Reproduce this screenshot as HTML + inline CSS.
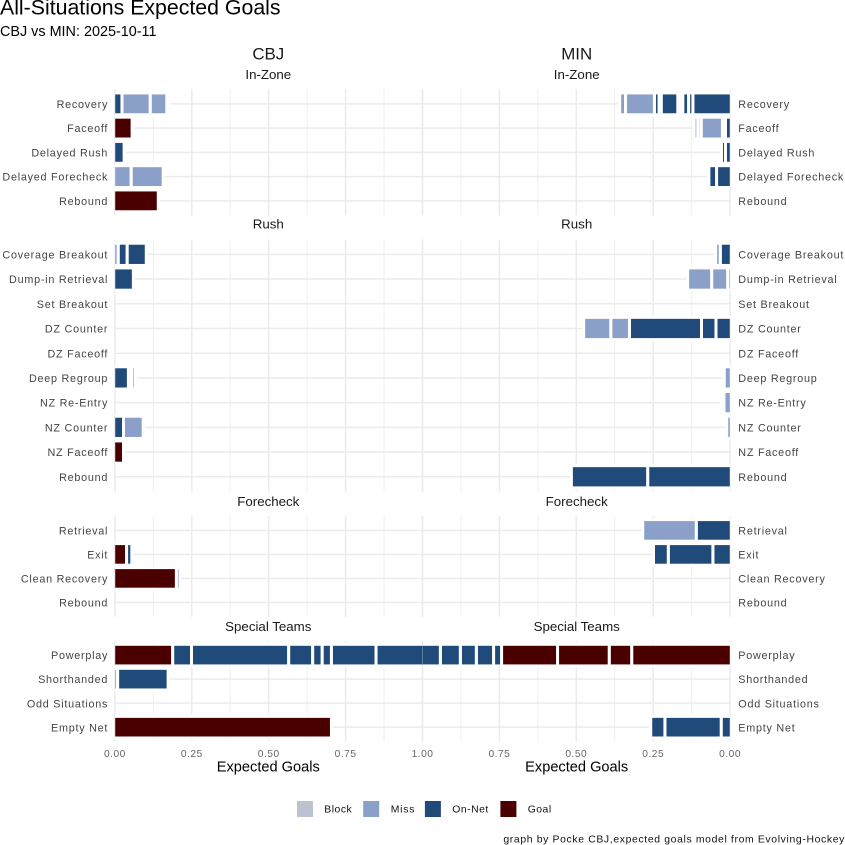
<!DOCTYPE html>
<html lang="en">
<head>
<meta charset="utf-8">
<title>All-Situations Expected Goals</title>
<style>
html,body{margin:0;padding:0;background:#fff;}
svg{display:block;font-family:"Liberation Sans",Arial,sans-serif;}
</style>
</head>
<body>
<svg id="chart" xmlns="http://www.w3.org/2000/svg" width="845" height="845" viewBox="0 0 845 845">
  <defs>
    <clipPath id="clip-cbj"><rect x="114.4" y="0" width="308" height="845"/></clipPath>
    <clipPath id="clip-min"><rect x="422.7" y="0" width="307.8" height="845"/></clipPath>
  </defs>
  <rect x="0" y="0" width="845" height="845" fill="#fff"/>
  <g id="grid"></g>
  <g id="bars-cbj" clip-path="url(#clip-cbj)"></g>
  <g id="bars-min" clip-path="url(#clip-min)"></g>
  <g id="labels"></g>

  <text x="0" y="14.5" font-size="21.3" fill="#000">All-Situations Expected Goals</text>
  <text x="0" y="36" font-size="14.4" fill="#000">CBJ vs MIN: 2025-10-11</text>
  <text x="268.3" y="59.5" font-size="16.9" text-anchor="middle" fill="#1a1a1a">CBJ</text>
  <text x="576.7" y="59.5" font-size="16.9" text-anchor="middle" fill="#1a1a1a">MIN</text>
  <text x="268.3" y="771.7" font-size="14.6" text-anchor="middle" fill="#000">Expected Goals</text>
  <text x="576.7" y="771.7" font-size="14.6" text-anchor="middle" fill="#000">Expected Goals</text>

  <g>
    <rect x="297" y="801" width="16" height="16" fill="#bcc3d0"/>
    <text x="324.3" y="812.6" font-size="10.4" letter-spacing="0.5" fill="#111">Block</text>
    <rect x="363.2" y="801" width="16" height="16" fill="#8aa0c9"/>
    <text x="390.7" y="812.6" font-size="10.4" letter-spacing="0.8" fill="#111">Miss</text>
    <rect x="424.9" y="801" width="16" height="16" fill="#1f4a7a"/>
    <text x="452.3" y="812.6" font-size="10.4" letter-spacing="0.5" fill="#111">On-Net</text>
    <rect x="500.4" y="801" width="16" height="16" fill="#4b0000"/>
    <text x="527.7" y="812.6" font-size="10.4" letter-spacing="0.5" fill="#111">Goal</text>
  </g>

  <text x="845" y="842.5" font-size="10.4" text-anchor="end" letter-spacing="0.65" fill="#111">graph by Pocke CBJ,expected goals model from Evolving-Hockey</text>
</svg>

<script>
// ---- categories ----
const facetNames = ['In-Zone', 'Rush', 'Forecheck', 'Special Teams'];
const inZoneCategories = ['Recovery', 'Faceoff', 'Delayed Rush', 'Delayed Forecheck', 'Rebound'];
const rushCategories = ['Coverage Breakout', 'Dump-in Retrieval', 'Set Breakout', 'DZ Counter', 'DZ Faceoff', 'Deep Regroup', 'NZ Re-Entry', 'NZ Counter', 'NZ Faceoff', 'Rebound'];
const forecheckCategories = ['Retrieval', 'Exit', 'Clean Recovery', 'Rebound'];
const specialTeamsCategories = ['Powerplay', 'Shorthanded', 'Odd Situations', 'Empty Net'];

// ---- tick labels ----
const xTicks = [0, 0.25, 0.5, 0.75, 1];
const xTickLabels = ['0.00', '0.25', '0.50', '0.75', '1.00'];
const xMinorTicks = [0.125, 0.375, 0.625, 0.875];

// ---- CBJ shot xG per row (one entry per shot, stacked from zero) ----
const cbjInZoneValues = [[0.023, 0.092, 0.054, 0.007], [0.056], [0.030], [0.053, 0.104], [0.141]];
const cbjInZoneResults = [['O', 'M', 'M', 'M'], ['G'], ['O'], ['M', 'M'], ['G']];
const cbjRushValues = [[0.011, 0.029, 0.062], [0.060], [], [], [], [0.044, 0.010, 0.013], [], [0.028, 0.064], [0.028], []];
const cbjRushResults = [['M', 'O', 'O'], ['O'], [], [], [], ['O', 'B', 'B'], [], ['O', 'M'], ['G'], []];
const cbjForecheckValues = [[], [0.038, 0.017], [0.200, 0.012], []];
const cbjForecheckResults = [[], ['G', 'O'], ['G', 'M'], []];
const cbjSpecialValues = [[0.188, 0.061, 0.316, 0.078, 0.031, 0.030, 0.145, 0.200], [0.009, 0.164], [], [0.704]];
const cbjSpecialResults = [['G', 'O', 'O', 'O', 'O', 'O', 'O', 'O'], ['M', 'O'], [], ['G']];

// ---- MIN shot xG per row ----
const minInZoneValues = [[0.121, 0.014, 0.019, 0.008, 0.008, 0.054, 0.007, 0.015, 0.094, 0.019], [0.015, 0.010, 0.069, 0.011, 0.012], [0.015, 0.013], [0.044, 0.025], []];
const minInZoneResults = [['O', 'O', 'O', 'O', 'O', 'O', 'O', 'O', 'M', 'M'], ['O', 'O', 'M', 'M', 'M'], ['O', 'O'], ['O', 'O'], []];
const minRushValues = [[0.032, 0.015], [0.008, 0.052, 0.078], [], [0.046, 0.047, 0.234, 0.061, 0.088], [], [0.019], [0.020, 0.008], [0.011], [], [0.268, 0.248]];
const minRushResults = [['O', 'M'], ['M', 'M', 'M'], [], ['O', 'O', 'O', 'M', 'M'], [], ['M'], ['M', 'M'], ['M'], [], ['O', 'O']];
const minForecheckValues = [[0.110, 0.174], [0.056, 0.145, 0.048], [], []];
const minForecheckResults = [['O', 'M'], ['O', 'O', 'O'], [], []];
const minSpecialValues = [[0.320, 0.073, 0.168, 0.182, 0.026, 0.056, 0.052, 0.065, 0.108], [], [], [0.029, 0.183, 0.046]];
const minSpecialResults = [['G', 'G', 'G', 'G', 'O', 'O', 'O', 'O', 'O'], [], [], ['O', 'O', 'O']];

// ---- colours by shot result ----
const resultColors = { B: '#bcc3d0', M: '#8aa0c9', O: '#1f4a7a', G: '#4b0000' };
const resultNames = { B: 'block', M: 'miss', O: 'on-net', G: 'goal' };

// ---- layout (not data) ----
const NS = 'http://www.w3.org/2000/svg';
const cbjZero = 114.9, minZero = 730.1, unitPx = 307.6;
const panelTops = [89.3, 239.5, 516, 640.7];
const panelBottoms = [215.4, 491.6, 616.8, 741.6];
const strokeW = 3;

function xCbj(v) { return cbjZero + v * unitPx; }
function xMin(v) { return minZero - v * unitPx; }

function make(tag, attrs, parent) {
  const el = document.createElementNS(NS, tag);
  for (const k in attrs) el.setAttribute(k, attrs[k]);
  parent.appendChild(el);
  return el;
}

const gridLayer = document.getElementById('grid');
const labelLayer = document.getElementById('labels');
const cbjLayer = document.getElementById('bars-cbj');
const minLayer = document.getElementById('bars-min');

function drawTeamGrid(scale, top, bottom, rows) {
  xMinorTicks.forEach(function (t) {
    const line = make('line', { x1: scale(t), x2: scale(t), y1: top, y2: bottom, stroke: '#efefef', 'stroke-width': 1 }, gridLayer);
    
    
  });
  xTicks.forEach(function (t) {
    const line = make('line', { x1: scale(t), x2: scale(t), y1: top, y2: bottom, stroke: '#ebebeb', 'stroke-width': 1.5 }, gridLayer);
    
    
  });
  rows.forEach(function (y) {
    const line = make('line', { x1: scale(0), x2: scale(1), y1: y, y2: y, stroke: '#ebebeb', 'stroke-width': 1.5 }, gridLayer);
    
    
  });
}

function drawBars(scale, dir, layer, team, rows, barH, values, results) {
  rows.forEach(function (y, r) {
    let cum = 0;
    values[r].forEach(function (v, s) {
      const a = scale(cum);
      const b = scale(cum + v);
      let lo = Math.min(a, b);
      let hi = Math.max(a, b);
      if (s === 0) {
        if (dir > 0) lo -= 1.2; else hi += 1.2;
      }
      const rect = make('rect', {
        x: lo, y: y - barH / 2, width: hi - lo, height: barH,
        fill: resultColors[results[r][s]], stroke: '#fff', 'stroke-width': strokeW
      }, layer);
      
      
      cum += v;
    });
  });
}

const categorySets = [inZoneCategories, rushCategories, forecheckCategories, specialTeamsCategories];
const cbjValueSets = [cbjInZoneValues, cbjRushValues, cbjForecheckValues, cbjSpecialValues];
const cbjResultSets = [cbjInZoneResults, cbjRushResults, cbjForecheckResults, cbjSpecialResults];
const minValueSets = [minInZoneValues, minRushValues, minForecheckValues, minSpecialValues];
const minResultSets = [minInZoneResults, minRushResults, minForecheckResults, minSpecialResults];
const stripBaselineOffset = [-10.3, -10.8, -10, -9.7];

facetNames.forEach(function (facet, f) {
  const cats = categorySets[f];
  const top = panelTops[f], bottom = panelBottoms[f];
  const step = (bottom - top) / (cats.length + 0.2);
  const rows = cats.map(function (_, i) { return top + (i + 0.6) * step; });
  const barH = step * 0.9;

  drawTeamGrid(xCbj, top, bottom, rows);
  drawTeamGrid(xMin, top, bottom, rows);
  drawBars(xCbj, 1, cbjLayer, 'cbj', rows, barH, cbjValueSets[f], cbjResultSets[f]);
  drawBars(xMin, -1, minLayer, 'min', rows, barH, minValueSets[f], minResultSets[f]);

  [268.3, 576.7].forEach(function (cx) {
    const strip = make('text', { x: cx, y: top + stripBaselineOffset[f], 'font-size': 13.3, 'text-anchor': 'middle', fill: '#1a1a1a' }, labelLayer);
    strip.textContent = facet;
    
    
  });

  cats.forEach(function (c, i) {
    const left = make('text', { x: 108.2, y: rows[i] + 4.1, 'font-size': 10.8, 'text-anchor': 'end', 'letter-spacing': 0.75, fill: '#444' }, labelLayer);
    left.textContent = c;
    
    
    const right = make('text', { x: 738.3, y: rows[i] + 4.1, 'font-size': 10.8, 'letter-spacing': 0.75, fill: '#444' }, labelLayer);
    right.textContent = c;
    
    
  });
});

xTicks.forEach(function (t, i) {
  const cbjTick = make('text', { x: xCbj(t), y: 757, 'font-size': 10.2, 'text-anchor': 'middle', 'letter-spacing': 0.5, fill: '#666' }, labelLayer);
  cbjTick.textContent = xTickLabels[i];
  
  
  if (t < 1) {
    const minTick = make('text', { x: xMin(t), y: 757, 'font-size': 10.2, 'text-anchor': 'middle', 'letter-spacing': 0.5, fill: '#666' }, labelLayer);
    minTick.textContent = xTickLabels[i];
    
    
  }
});
</script>
</body>
</html>
